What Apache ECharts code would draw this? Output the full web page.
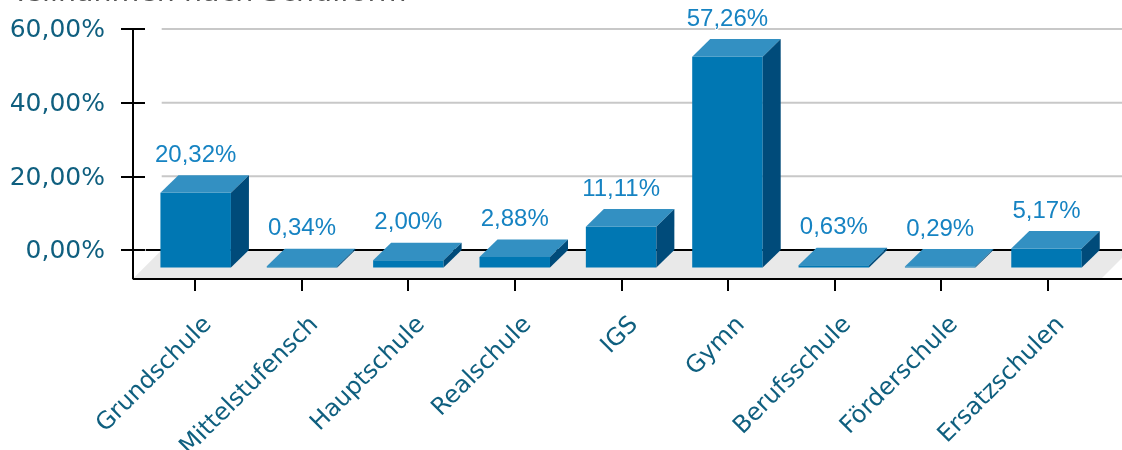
<!DOCTYPE html>
<html><head><meta charset="utf-8">
<style>html,body{margin:0;padding:0;background:#fff;overflow:hidden}#c{width:1122px;height:450px}</style>
<script src="https://cdn.jsdelivr.net/npm/echarts@6/dist/echarts.min.js"></script>
</head><body><div id="c"></div>
<script>
const titleText = 'Teilnahmen nach Schulform';
const categories = ['Grundschule','Mittelstufensch','Hauptschule','Realschule','IGS','Gymn','Berufsschule','Förderschule','Ersatzschulen'];
const values = [20.32,0.34,2.00,2.88,11.11,57.26,0.63,0.29,5.17];
const valueLabels = ['20,32%','0,34%','2,00%','2,88%','11,11%','57,26%','0,63%','0,29%','5,17%'];
const gridValues = [20,40,60];
const yTickLabels = {0:'0,00%',20:'20,00%',40:'40,00%',60:'60,00%'};

const DX = 18, DY = 17.6, BW = 70.5, FLOOR = 29;
const chart = echarts.init(document.getElementById('c'), null, {renderer:'canvas'});

function pts(points, fill){ return {type:'polygon', shape:{points}, style:{fill}}; }
function line(x1,y1,x2,y2,stroke,w){ return {type:'line', shape:{x1,y1,x2,y2}, style:{stroke,lineWidth:w}}; }

chart.setOption({
  animation:false,
  backgroundColor:'#fff',
  title:{text:titleText, left:7, top:-26, textStyle:{fontFamily:'DejaVu Sans',fontSize:28.5,fontWeight:'normal',color:'#555'}},
  grid:[
    {left:160.5, top:29, width:957.2, height:221, outerBoundsMode:'none'},   // back plane: bars, value scale
    {left:141.7, top:29, width:959.4, height:238, outerBoundsMode:'none'},   // category ticks
    {left:154.7, top:29, width:959.4, height:238, outerBoundsMode:'none'},   // category labels
    {left:160.5, top:30.7, width:957.2, height:221, outerBoundsMode:'none'}  // value labels
  ],
  xAxis:[
    {type:'category', gridIndex:0, data:categories, show:false},
    {type:'category', gridIndex:1, data:categories, position:'bottom',
     axisLine:{show:false}, axisLabel:{show:false},
     axisTick:{show:true, alignWithLabel:true, length:24, lineStyle:{color:'#000',width:2}}},
    {type:'category', gridIndex:2, data:categories, position:'bottom',
     axisLine:{show:false}, axisTick:{show:false},
     axisLabel:{rotate:45, interval:0, margin:54, color:'#0f5f7f', fontFamily:'DejaVu Sans', fontSize:24}},
    {type:'category', gridIndex:3, data:categories, show:false}
  ],
  yAxis:[
    {type:'value', gridIndex:0, min:0, max:60, interval:20, offset:15.5,
     axisLine:{show:false}, axisLabel:{show:false},
     axisTick:{show:true, length:24, lineStyle:{color:'#000',width:2}},
     splitLine:{show:false}},
    {type:'value', gridIndex:1, show:false, min:0, max:1, splitLine:{show:false}},
    {type:'value', gridIndex:2, show:false, min:0, max:1, splitLine:{show:false}},
    {type:'value', gridIndex:3, min:0, max:60, interval:20, offset:15.5,
     axisLine:{show:false}, axisTick:{show:false}, splitLine:{show:false},
     axisLabel:{margin:40, color:'#0f5f7f', fontFamily:'DejaVu Sans', fontSize:25, formatter:v=>yTickLabels[v]}}
  ],
  series:[
    {type:'custom', xAxisIndex:0, yAxisIndex:0, z:1, silent:true, data:[[0,0]],
     renderItem(params, api){
       const cs = params.coordSys, W = 1122;
       const y0 = api.coord([0,0])[1];
       const left = cs.x + 1.2;
       const kids = [
         pts([[left-FLOOR,y0+FLOOR],[left,y0],[1130,y0],[1101,y0+FLOOR]],'#e9e9e9')
       ];
       gridValues.forEach(v=>{
         const y = api.coord([0,v])[1];
         kids.push(line(left,y,W,y,'#c8c8c8',2));
       });
       kids.push(line(left-16,y0,W,y0,'#000',2));
       kids.push(line(left-FLOOR+0.3,api.coord([0,60])[1],left-FLOOR+0.3,y0+FLOOR,'#000',2));
       kids.push(line(left-FLOOR,y0+FLOOR,W,y0+FLOOR,'#000',2));
       return {type:'group', children:kids};
     }},
    {type:'custom', xAxisIndex:0, yAxisIndex:0, z:3, silent:true,
     data:values.map((v,i)=>[i,v]),
     renderItem(params, api){
       const i = api.value(0), v = api.value(1);
       const top = api.coord([i,v]), base = api.coord([i,0]);
       const xb0 = top[0]-BW/2, xb1 = top[0]+BW/2;
       const xf0 = xb0-DX, xf1 = xb1-DX;
       const yt = top[1], yb = base[1];
       return {type:'group', children:[
         pts([[xf0,yt+DY],[xf1,yt+DY],[xf1,yb+DY],[xf0,yb+DY]],'#0077b3'),
         pts([[xf0,yt+DY],[xb0,yt],[xb1,yt],[xf1,yt+DY]],'#3390c2'),
         pts([[xf1,yt+DY],[xb1,yt],[xb1,yb],[xf1,yb+DY]],'#004b7a'),
         {type:'text', style:{text:valueLabels[i], x:xf0+BW/2, y:yt-8, align:'center', verticalAlign:'bottom',
           fill:'#1683c2', font:'24px "Liberation Sans"', stroke:'#fff', lineWidth:2}}
       ]};
     }}
  ]
});
</script></body></html>
